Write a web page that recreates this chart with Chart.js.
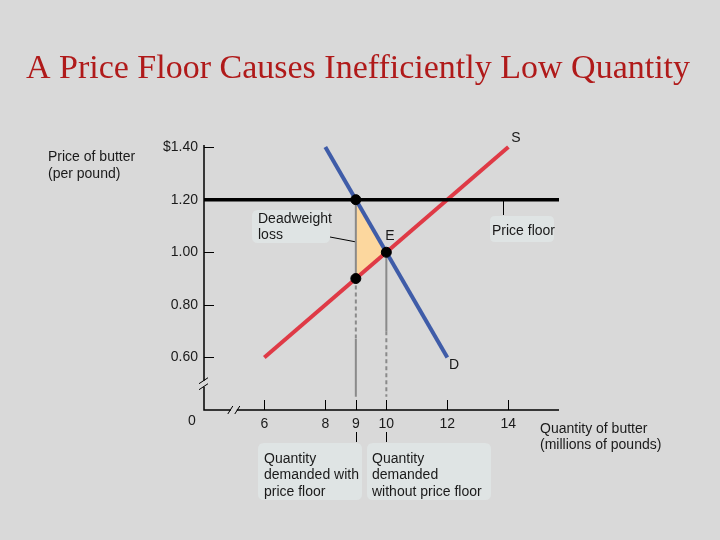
<!DOCTYPE html>
<html>
<head>
<meta charset="utf-8">
<script src="https://cdn.jsdelivr.net/npm/chart.js@4.4.1/dist/chart.umd.min.js"></script>
<style>
  html, body { margin: 0; padding: 0; background: #d9d9d9; }
  #wrap { width: 720px; height: 540px; position: relative; }
</style>
</head>
<body>
<div id="wrap"><canvas id="c" width="720" height="540"></canvas></div>
<script>
// ---- data ----
const xTickValues = [6, 8, 9, 10, 12, 14];
const xTickLabels = ["6", "8", "9", "10", "12", "14"];
const yTickValues = [0.6, 0.8, 1.0, 1.2, 1.4];
const yTickLabels = ["0.60", "0.80", "1.00", "1.20", "$1.40"];
const xRange = [4.023, 15.66];
const yRange = [0.40, 1.408];
const supplyQ = [6, 14];
const supplyP = [0.60, 1.40];
const demandQ = [8, 12];
const demandP = [1.40, 0.60];
const priceFloor = 1.20;
const dwlQ = [9, 10, 9];
const dwlP = [1.20, 1.00, 0.90];
const dotQ = [9, 10, 9];
const dotP = [1.20, 1.00, 0.90];
const qWithFloor = 9;
const qWithout = 10;
const line9Solid1 = [1.20, 0.90];
const line9Dash = [0.90, 0.67];
const line9Solid2 = [0.67, 0.45];
const line10Solid = [1.00, 0.70];
const line10Dash = [0.70, 0.45];

const pts = (xs, ys) => xs.map((x, i) => ({ x: x, y: ys[i] }));
const FONT = "'Liberation Sans', Arial, sans-serif";

const gray = '#8a8a8a';
const vline = (q, ys, dashed) => ({
  data: [{ x: q, y: ys[0] }, { x: q, y: ys[1] }],
  showLine: true, borderColor: gray, borderWidth: 2, pointRadius: 0,
  borderDash: dashed ? [4, 3] : [], fill: false, order: 5
});

const bgPlugin = {
  id: 'bg',
  beforeDraw(chart) {
    const ctx = chart.ctx;
    ctx.save();
    ctx.fillStyle = '#d9d9d9';
    ctx.fillRect(0, 0, chart.width, chart.height);
    ctx.restore();
  }
};

function roundRect(ctx, x, y, w, h, r, color) {
  ctx.beginPath();
  ctx.moveTo(x + r, y);
  ctx.lineTo(x + w - r, y);
  ctx.quadraticCurveTo(x + w, y, x + w, y + r);
  ctx.lineTo(x + w, y + h - r);
  ctx.quadraticCurveTo(x + w, y + h, x + w - r, y + h);
  ctx.lineTo(x + r, y + h);
  ctx.quadraticCurveTo(x, y + h, x, y + h - r);
  ctx.lineTo(x, y + r);
  ctx.quadraticCurveTo(x, y, x + r, y);
  ctx.closePath();
  ctx.fillStyle = color;
  ctx.fill();
}

const decoPlugin = {
  id: 'deco',
  beforeDatasetsDraw(chart) {
    const ctx = chart.ctx;
    const xs = chart.scales.x, ys = chart.scales.y;
    const L = xs.left, B = ys.bottom, T = ys.top, R = xs.right;
    ctx.save();
    // label boxes
    const boxColor = '#dfe4e4';
    roundRect(ctx, 252, 210, 78, 33, 6, boxColor);
    roundRect(ctx, 490, 216, 64, 26, 5, boxColor);
    roundRect(ctx, 258, 443, 104, 57, 6, boxColor);
    roundRect(ctx, 367, 443, 124, 57, 6, boxColor);

    // axes
    ctx.strokeStyle = '#000';
    ctx.lineWidth = 1.5;
    const yBreak = ys.getPixelForValue(0.50);
    const xBreak = xs.getPixelForValue(5.0);
    ctx.beginPath();
    ctx.moveTo(L, T); ctx.lineTo(L, yBreak - 3);
    ctx.moveTo(L, yBreak + 3); ctx.lineTo(L, B);
    ctx.lineTo(xBreak - 3, B);
    ctx.moveTo(xBreak + 3, B); ctx.lineTo(R, B);
    ctx.stroke();
    ctx.lineWidth = 1;
    ctx.beginPath();
    // y break slashes
    ctx.moveTo(L - 5, yBreak - 0); ctx.lineTo(L + 4, yBreak - 6);
    ctx.moveTo(L - 5, yBreak + 6); ctx.lineTo(L + 4, yBreak + 0);
    // x break slashes
    ctx.moveTo(xBreak - 6, B + 4); ctx.lineTo(xBreak - 1, B - 4);
    ctx.moveTo(xBreak + 1, B + 4); ctx.lineTo(xBreak + 6, B - 4);
    ctx.stroke();

    // inward tick marks
    ctx.beginPath();
    yTickValues.forEach(v => {
      const py = Math.round(ys.getPixelForValue(v)) + 0.5;
      ctx.moveTo(L, py); ctx.lineTo(L + 10, py);
    });
    xTickValues.forEach(v => {
      const px = Math.round(xs.getPixelForValue(v)) + 0.5;
      ctx.moveTo(px, B); ctx.lineTo(px, B - 10);
    });
    // small ticks below labels 9 and 10
    [qWithFloor, qWithout].forEach(v => {
      const px = Math.round(xs.getPixelForValue(v)) + 0.5;
      ctx.moveTo(px, 432); ctx.lineTo(px, 442);
    });
    // price floor connector
    ctx.moveTo(503.5, ys.getPixelForValue(priceFloor)); ctx.lineTo(503.5, 215);
    // deadweight leader
    ctx.moveTo(330, 237); ctx.lineTo(367, 244);
    ctx.stroke();
    ctx.restore();
  },
  afterDatasetsDraw(chart) {
    const ctx = chart.ctx;
    const xs = chart.scales.x, ys = chart.scales.y;
    ctx.save();
    // title
    ctx.fillStyle = '#b01a1a';
    ctx.font = "34px 'Liberation Serif', 'Times New Roman', serif";
    ctx.textAlign = 'center';
    ctx.textBaseline = 'alphabetic';
    ctx.fillText('A Price Floor Causes Inefficiently Low Quantity', 358, 78);

    ctx.fillStyle = '#1a1a1a';
    ctx.font = '14px ' + FONT;
    ctx.textAlign = 'left';
    ctx.textBaseline = 'middle';
    const lines = (arr, x, y0, dy) => arr.forEach((t, i) => ctx.fillText(t, x, y0 + i * dy));
    lines(['Price of butter', '(per pound)'], 48, 157, 17);
    lines(['Quantity of butter', '(millions of pounds)'], 540, 429, 16.5);
    lines(['Deadweight', 'loss'], 258, 219, 16);
    lines(['Price floor'], 492, 231, 16);
    lines(['Quantity', 'demanded with', 'price floor'], 264, 459, 16.5);
    lines(['Quantity', 'demanded', 'without price floor'], 372, 459, 16.5);
    ctx.textAlign = 'center';
    ctx.fillText('S', 516, 138);
    ctx.fillText('D', 454, 365);
    ctx.fillText('E', 390, 236);
    ctx.fillText('0', 192, 421);
    ctx.restore();
  }
};

const chart = new Chart(document.getElementById('c'), {
  type: 'scatter',
  data: {
    datasets: [
      { data: pts(dotQ, dotP), pointRadius: 5, pointBackgroundColor: '#000', pointBorderColor: '#000', showLine: false, order: 0 },
      { data: [{ x: xRange[0], y: priceFloor }, { x: xRange[1], y: priceFloor }], showLine: true, borderColor: '#000', borderWidth: 3.5, pointRadius: 0, fill: false, order: 1 },
      { data: pts(supplyQ, supplyP), showLine: true, borderColor: '#df3a46', borderWidth: 4, pointRadius: 0, fill: false, order: 2 },
      { data: pts(demandQ, demandP), showLine: true, borderColor: '#3f5ca8', borderWidth: 4, pointRadius: 0, fill: false, order: 3 },
      vline(qWithFloor, line9Solid1, false),
      vline(qWithFloor, line9Dash, true),
      vline(qWithFloor, line9Solid2, false),
      vline(qWithout, line10Solid, false),
      vline(qWithout, line10Dash, true),
      { data: pts(dwlQ, dwlP).concat([{ x: dwlQ[0], y: dwlP[0] }]), showLine: true, borderWidth: 0, borderColor: 'rgba(0,0,0,0)', backgroundColor: '#fcd79e', pointRadius: 0, fill: 'shape', order: 9 }
    ]
  },
  options: {
    responsive: false,
    animation: false,
    devicePixelRatio: 1,
    layout: { padding: { top: 145, right: 161, left: 0, bottom: 0 } },
    plugins: { legend: { display: false }, tooltip: { enabled: false }, title: { display: false } },
    scales: {
      x: {
        type: 'linear', min: xRange[0], max: xRange[1],
        grid: { display: false, drawTicks: false },
        border: { display: false },
        afterFit(s) { s.height = 130; },
        afterBuildTicks(s) { s.ticks = xTickValues.map(v => ({ value: v })); },
        ticks: {
          padding: 6, color: '#1a1a1a', font: { family: FONT, size: 14 }, maxRotation: 0, autoSkip: false,
          callback: (v) => { const i = xTickValues.indexOf(v); return i >= 0 ? xTickLabels[i] : ''; }
        }
      },
      y: {
        type: 'linear', min: yRange[0], max: yRange[1],
        grid: { display: false, drawTicks: false },
        border: { display: false },
        afterFit(s) { s.width = 204; },
        afterBuildTicks(s) { s.ticks = yTickValues.map(v => ({ value: v })); },
        ticks: {
          padding: 6, color: '#1a1a1a', font: { family: FONT, size: 14 }, autoSkip: false,
          callback: (v) => { const i = yTickValues.findIndex(t => Math.abs(t - v) < 1e-9); return i >= 0 ? yTickLabels[i] : ''; }
        }
      }
    }
  },
  plugins: [bgPlugin, decoPlugin]
});
</script>
</body>
</html>
